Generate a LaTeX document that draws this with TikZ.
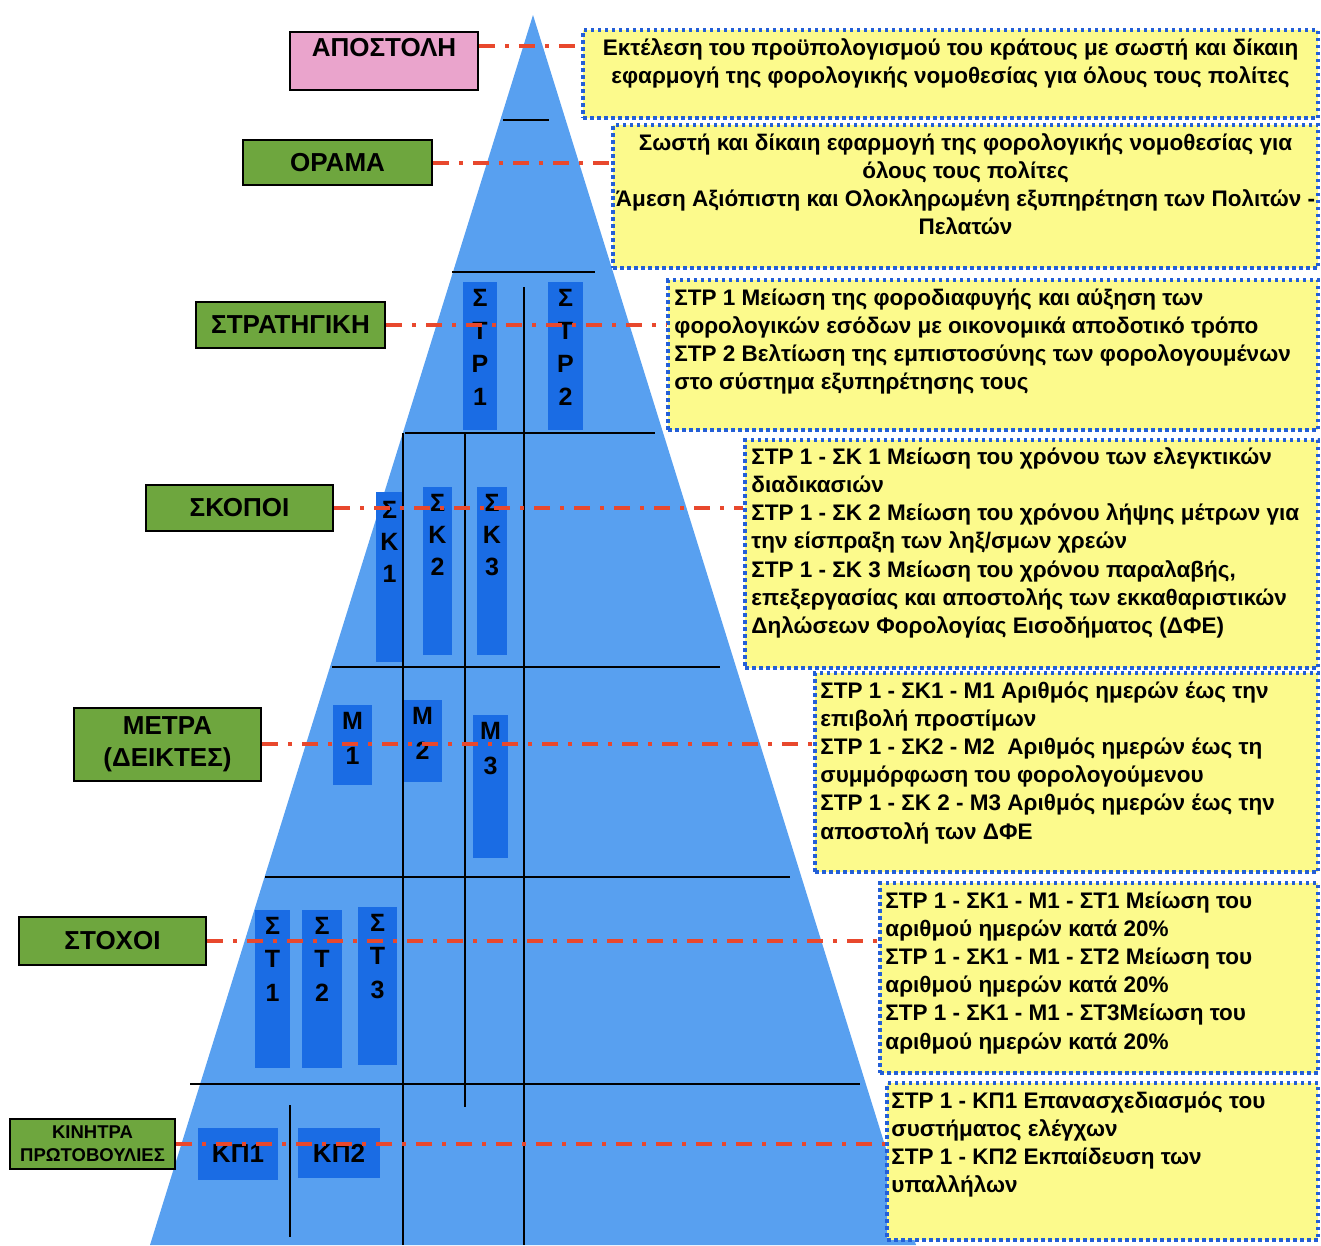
\documentclass[tikz,border=0pt]{standalone}
\usepackage{fontspec}
\setmainfont{Liberation Sans}
\usepackage{xcolor}
\usetikzlibrary{positioning}
\definecolor{pyrblue}{RGB}{88,160,240}
\definecolor{barblue}{RGB}{26,108,228}
\definecolor{notebg}{RGB}{252,250,140}
\definecolor{dotblue}{RGB}{35,95,215}
\definecolor{linkred}{RGB}{232,72,45}
\definecolor{tagpink}{RGB}{234,164,204}
\definecolor{taggreen}{RGB}{110,166,62}

\begin{document}
\begin{tikzpicture}[x=1pt,y=-1pt,
        tag/.style={draw=black, line width=2pt, inner sep=0pt, align=center,
            font=\fontsize{26}{32}\selectfont\bfseries},
        note/.style={draw=dotblue, fill=notebg, line width=3.5pt,
            dash pattern=on 3.5pt off 3.5pt, inner sep=0pt},
        notetxt/.style={inner sep=0pt, font=\fontsize{22.5}{28.2}\selectfont\bfseries},
        bar/.style={fill=barblue, inner sep=0pt, font=\fontsize{26}{30}\selectfont\bfseries},
        bartxt/.style={anchor=north, yshift=-7pt, inner sep=0pt, align=center},
        link/.style={linkred, line width=4pt, dash pattern=on 16pt off 10pt on 4pt off 10pt},
        grid/.style={black, line width=1.5pt}]
            \useasboundingbox (0,0) rectangle (1321,1245);

            % Pyramid
            \fill[pyrblue] (533,15) -- (150,1245) -- (916,1245) -- cycle;

            % Bars inside the pyramid
            \node[bar, minimum width=34pt, minimum height=148pt,
                label={[bartxt, font=\fontsize{25}{33}\selectfont\bfseries]north:{Σ\\Τ\\Ρ\\1}}] (str1) at (480,356) {};
            \node[bar, minimum width=35pt, minimum height=148pt,
                label={[bartxt, font=\fontsize{25}{33}\selectfont\bfseries]north:{Σ\\Τ\\Ρ\\2}}] (str2) at (565.5,356) {};
            \node[bar, minimum width=27pt, minimum height=170pt,
                label={[bartxt, yshift=-2pt, font=\fontsize{25}{32}\selectfont\bfseries]north:{Σ\\Κ\\1}}] (sk1) at (389.5,577) {};
            \node[bar, minimum width=29pt, minimum height=168pt,
                label={[bartxt, font=\fontsize{25}{32}\selectfont\bfseries]north:{Σ\\Κ\\2}}] (sk2) at (437.5,571) {};
            \node[bar, minimum width=30pt, minimum height=168pt,
                label={[bartxt, font=\fontsize{25}{32}\selectfont\bfseries]north:{Σ\\Κ\\3}}] (sk3) at (492,571) {};
            \node[bar, minimum width=39pt, minimum height=80pt,
                label={[bartxt, font=\fontsize{25}{35}\selectfont\bfseries]north:{Μ\\1}}] (m1) at (352.5,745) {};
            \node[bar, minimum width=39pt, minimum height=82pt,
                label={[bartxt, font=\fontsize{25}{35}\selectfont\bfseries]north:{Μ\\2}}] (m2) at (422.5,741) {};
            \node[bar, minimum width=35pt, minimum height=143pt,
                label={[bartxt, font=\fontsize{25}{35}\selectfont\bfseries]north:{Μ\\3}}] (m3) at (490.5,786.5) {};
            \node[bar, minimum width=35pt, minimum height=158pt,
                label={[bartxt, font=\fontsize{25}{33.5}\selectfont\bfseries]north:{Σ\\Τ\\1}}] (st1) at (272.5,989) {};
            \node[bar, minimum width=40pt, minimum height=158pt,
                label={[bartxt, font=\fontsize{25}{33.5}\selectfont\bfseries]north:{Σ\\Τ\\2}}] (st2) at (322,989) {};
            \node[bar, minimum width=39pt, minimum height=158pt,
                label={[bartxt, font=\fontsize{25}{33.5}\selectfont\bfseries]north:{Σ\\Τ\\3}}] (st3) at (377.5,986) {};
            \node[bar, minimum width=80pt, minimum height=52pt] (kp1) at (238,1154) {ΚΠ1};
            \node[bar, minimum width=82pt, minimum height=50pt] (kp2) at (339,1153) {ΚΠ2};

            % Grid lines
            \draw[grid] (503,120) -- (549,120);
            \draw[grid] (452,272) -- (595,272);
            \draw[grid] (405,433) -- (655,433);
            \draw[grid] (332,667) -- (720,667);
            \draw[grid] (265,877) -- (790,877);
            \draw[grid] (190,1084) -- (860,1084);
            \draw[grid] (524,287) -- (524,1245);
            \draw[grid] (465,433) -- (465,1107);
            \draw[grid] (403,433) -- (403,1245);
            \draw[grid] (290,1105) -- (290,1237);

            % Level labels
            \node[tag, fill=tagpink, minimum width=188pt, minimum height=58pt,
                text height=14pt, text depth=24pt] (apostoli) at (384,61) {ΑΠΟΣΤΟΛΗ};
            \node[tag, fill=taggreen, minimum width=189pt, minimum height=45pt] (orama) at (337.5,162.5) {ΟΡΑΜΑ};
            \node[tag, fill=taggreen, minimum width=189pt, minimum height=46pt] (strategy) at (290.5,325) {ΣΤΡΑΤΗΓΙΚΗ};
            \node[tag, fill=taggreen, minimum width=187pt, minimum height=46pt] (skopoi) at (239.5,508) {ΣΚΟΠΟΙ};
            \node[tag, fill=taggreen, minimum width=187pt, minimum height=73pt] (metra) at (167.5,744) {ΜΕΤΡΑ\\(ΔΕΙΚΤΕΣ)};
            \node[tag, fill=taggreen, minimum width=187pt, minimum height=48pt] (stoxoi) at (112.5,941) {ΣΤΟΧΟΙ};
            \node[tag, fill=taggreen, minimum width=165pt, minimum height=50pt,
                font=\fontsize{18.5}{23}\selectfont\bfseries] (kinitra) at (92.5,1144) {ΚΙΝΗΤΡΑ\\ΠΡΩΤΟΒΟΥΛΙΕΣ};

            % Description boxes
            \node[note, minimum width=735pt, minimum height=88pt] (box1) at (950.5,74) {};
            \node[note, minimum width=705pt, minimum height=143pt] (box2) at (965.5,196.5) {};
            \node[note, minimum width=650pt, minimum height=150pt] (box3) at (993,355) {};
            \node[note, minimum width=573pt, minimum height=228pt] (box4) at (1031.5,554) {};
            \node[note, minimum width=503pt, minimum height=199pt] (box5) at (1066.5,772.5) {};
            \node[note, minimum width=438pt, minimum height=190pt] (box6) at (1099,978) {};
            \node[note, minimum width=431pt, minimum height=157pt] (box7) at (1102.5,1161.5) {};

            % Texts of the boxes
            \node[notetxt, align=center, anchor=north] (txt1) at ([yshift=-10pt]box1.north)
                {Εκτέλεση του προϋπολογισμού του κράτους με σωστή και δίκαιη\\
                 εφαρμογή της φορολογικής νομοθεσίας για όλους τους πολίτες};
            \node[notetxt, align=center, anchor=north] (txt2) at ([yshift=-10pt]box2.north)
                {Σωστή και δίκαιη εφαρμογή της φορολογικής νομοθεσίας για\\
                 όλους τους πολίτες\\
                 Άμεση Αξιόπιστη και Ολοκληρωμένη εξυπηρέτηση των Πολιτών -\\
                 Πελατών};
            \node[notetxt, align=left, anchor=north west] (txt3) at ([xshift=8pt,yshift=-10pt]box3.north west)
                {ΣΤΡ 1 Μείωση της φοροδιαφυγής και αύξηση των\\
                 φορολογικών εσόδων με οικονομικά αποδοτικό τρόπο\\
                 ΣΤΡ 2 Βελτίωση της εμπιστοσύνης των φορολογουμένων\\
                 στο σύστημα εξυπηρέτησης τους};
            \node[notetxt, align=left, anchor=north west] (txt4) at ([xshift=8pt,yshift=-9pt]box4.north west)
                {ΣΤΡ 1 - ΣΚ 1 Μείωση του χρόνου των ελεγκτικών\\
                 διαδικασιών\\
                 ΣΤΡ 1 - ΣΚ 2 Μείωση του χρόνου λήψης μέτρων για\\
                 την είσπραξη των ληξ/σμων χρεών\\
                 ΣΤΡ 1 - ΣΚ 3 Μείωση του χρόνου παραλαβής,\\
                 επεξεργασίας και αποστολής των εκκαθαριστικών\\
                 Δηλώσεων Φορολογίας Εισοδήματος (ΔΦΕ)};
            \node[notetxt, align=left, anchor=north west] (txt5) at ([xshift=7pt,yshift=-10pt]box5.north west)
                {ΣΤΡ 1 - ΣΚ1 - Μ1 Αριθμός ημερών έως την\\
                 επιβολή προστίμων\\
                 ΣΤΡ 1 - ΣΚ2 - Μ2~ Αριθμός ημερών έως τη\\
                 συμμόρφωση του φορολογούμενου\\
                 ΣΤΡ 1 - ΣΚ 2 - Μ3 Αριθμός ημερών έως την\\
                 αποστολή των ΔΦΕ};
            \node[notetxt, align=left, anchor=north west] (txt6) at ([xshift=7pt,yshift=-10pt]box6.north west)
                {ΣΤΡ 1 - ΣΚ1 - Μ1 - ΣΤ1 Μείωση του\\
                 αριθμού ημερών κατά 20\%\\
                 ΣΤΡ 1 - ΣΚ1 - Μ1 - ΣΤ2 Μείωση του\\
                 αριθμού ημερών κατά 20\%\\
                 ΣΤΡ 1 - ΣΚ1 - Μ1 - ΣΤ3Μείωση του\\
                 αριθμού ημερών κατά 20\%};
            \node[notetxt, align=left, anchor=north west] (txt7) at ([xshift=6pt,yshift=-10pt]box7.north west)
                {ΣΤΡ 1 - ΚΠ1 Επανασχεδιασμός του\\
                 συστήματος ελέγχων\\
                 ΣΤΡ 1 - ΚΠ2 Εκπαίδευση των\\
                 υπαλλήλων};

            % Links from labels to boxes
            \draw[link] ([yshift=15pt]apostoli.east) -- ([yshift=15pt]apostoli.east -| box1.west);
            \draw[link] (orama.east) -- (orama.east -| box2.west);
            \draw[link] (strategy.east) -- (strategy.east -| box3.west);
            \draw[link] (skopoi.east) -- (skopoi.east -| box4.west);
            \draw[link] (metra.east) -- (metra.east -| box5.west);
            \draw[link] (stoxoi.east) -- (stoxoi.east -| box6.west);
            \draw[link] (kinitra.east) -- (kinitra.east -| box7.west);
        \end{tikzpicture}
\end{document}
